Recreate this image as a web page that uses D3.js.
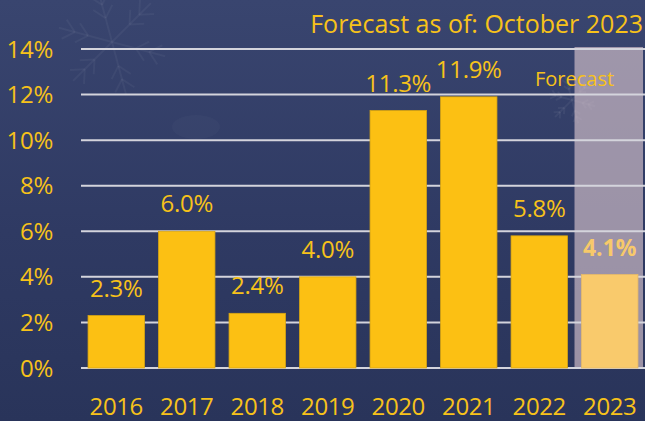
<!DOCTYPE html>
<html>
<head>
<meta charset="utf-8">
<script src="https://cdn.jsdelivr.net/npm/d3@7"></script>
<style>
  html, body { margin: 0; padding: 0; background: #2e3961; }
  svg { display: block; font-family: "Open Sans", "Noto Sans", sans-serif; }
</style>
</head>
<body>
<div id="chart"></div>
<script>
// chart data
const years = ["2016", "2017", "2018", "2019", "2020", "2021", "2022", "2023"];
const growth = [2.3, 6.0, 2.4, 4.0, 11.3, 11.9, 5.8, 4.1];
const forecastYears = ["2023"];
const yTicks = [0, 2, 4, 6, 8, 10, 12, 14];
const titleText = "Forecast as of: October 2023";

const width = 645, height = 421;
const plot = { left: 81, right: 645, top: 49, bottom: 368 };
const yellow = "#f7c21a";

const svg = d3.select("#chart").append("svg")
  .attr("width", width)
  .attr("height", height);

// background with a soft vertical gradient
const defs = svg.append("defs");
const bg = defs.append("linearGradient").attr("id", "bg")
  .attr("x1", 0).attr("y1", 0).attr("x2", 0).attr("y2", 1);
bg.append("stop").attr("offset", "0%").attr("stop-color", "#39456f");
bg.append("stop").attr("offset", "55%").attr("stop-color", "#2f3a63");
bg.append("stop").attr("offset", "100%").attr("stop-color", "#29345a");
svg.append("rect").attr("width", width).attr("height", height).attr("fill", "url(#bg)");

// faint decorative snowflakes
function snowflake(cx, cy, r, op) {
  const g = svg.append("g")
    .attr("transform", `translate(${cx},${cy})`)
    .attr("stroke", "#ffffff")
    .attr("stroke-opacity", op)
    .attr("stroke-width", 2)
    .attr("fill", "none");
  d3.range(6).forEach(i => {
    const arm = g.append("g").attr("transform", `rotate(${i * 60 + 15})`);
    arm.append("line").attr("x1", 0).attr("y1", 0).attr("x2", r).attr("y2", 0);
    [0.45, 0.7].forEach(t => {
      arm.append("line").attr("x1", r * t).attr("y1", 0).attr("x2", r * (t + 0.2)).attr("y2", -r * 0.18);
      arm.append("line").attr("x1", r * t).attr("y1", 0).attr("x2", r * (t + 0.2)).attr("y2", r * 0.18);
    });
  });
}
snowflake(112, 42, 55, 0.045);
snowflake(572, 100, 24, 0.05);
svg.append("ellipse").attr("cx", 196).attr("cy", 127).attr("rx", 24).attr("ry", 12)
  .attr("fill", "#ffffff").attr("fill-opacity", 0.025);

// scales
const x = d3.scaleBand()
  .domain(years)
  .range([plot.left, plot.right])
  .paddingInner(0.2)
  .paddingOuter(0.1);

const y = d3.scaleLinear()
  .domain([0, 14])
  .range([plot.bottom, plot.top]);

const step = x.step();
const gap = step - x.bandwidth();

// forecast shading
forecastYears.forEach(yr => {
  svg.append("rect")
    .attr("x", x(yr) - gap / 2)
    .attr("y", y(14) - 2)
    .attr("width", step - 2)
    .attr("height", y(0) - y(14) + 3)
    .attr("fill", "#d7c3cd")
    .attr("fill-opacity", 0.65);
  svg.append("text")
    .attr("x", x(yr) - gap / 2)
    .attr("y", 86)
    .attr("text-anchor", "middle")
    .attr("fill", yellow)
    .attr("font-size", 20)
    .text("Forecast");
});

// gridlines
svg.append("g")
  .selectAll("line")
  .data(yTicks)
  .join("line")
    .attr("x1", plot.left)
    .attr("x2", plot.right)
    .attr("y1", d => y(d))
    .attr("y2", d => y(d))
    .attr("stroke", "#d4d4dc")
    .attr("stroke-width", 2);

// y tick labels
svg.append("g")
  .selectAll("text")
  .data(yTicks)
  .join("text")
    .attr("x", 53)
    .attr("y", d => y(d))
    .attr("dy", "0.36em")
    .attr("text-anchor", "end")
    .attr("fill", yellow)
    .attr("font-size", 24)
    .attr("letter-spacing", -0.3)
    .text(d => d + "%");

const isForecast = yr => forecastYears.includes(yr);
const data = years.map((yr, i) => ({ year: yr, value: growth[i] }));

// bars
svg.append("g")
  .selectAll("rect")
  .data(data)
  .join("rect")
    .attr("x", d => x(d.year))
    .attr("y", d => y(d.value))
    .attr("width", x.bandwidth())
    .attr("height", d => y(0) - y(d.value))
    .attr("fill", d => isForecast(d.year) ? "#f9ca6c" : "#fcc013")
    .attr("stroke", d => isForecast(d.year) ? "#e8bb66" : "#d9a612")
    .attr("stroke-width", 0.8);

// value labels
svg.append("g")
  .selectAll("text")
  .data(data)
  .join("text")
    .attr("x", d => x(d.year) + x.bandwidth() / 2)
    .attr("y", d => y(d.value) - 19)
    .attr("text-anchor", "middle")
    .attr("fill", d => isForecast(d.year) ? "#f7c96a" : yellow)
    .attr("font-weight", d => isForecast(d.year) ? "bold" : "normal")
    .attr("font-size", d => isForecast(d.year) ? 23 : 24)
    .attr("letter-spacing", d => isForecast(d.year) ? 0 : -0.3)
    .text(d => d.value.toFixed(1) + "%");

// x axis year labels
svg.append("g")
  .selectAll("text")
  .data(years)
  .join("text")
    .attr("x", d => x(d) + x.bandwidth() / 2)
    .attr("y", 415)
    .attr("text-anchor", "middle")
    .attr("fill", yellow)
    .attr("font-size", 24)
    .attr("letter-spacing", -0.4)
    .text(d => d);

// title
svg.append("text")
  .attr("x", 643)
  .attr("y", 33)
  .attr("text-anchor", "end")
  .attr("fill", yellow)
  .attr("font-size", 25)
  .text(titleText);
</script>
</body>
</html>
